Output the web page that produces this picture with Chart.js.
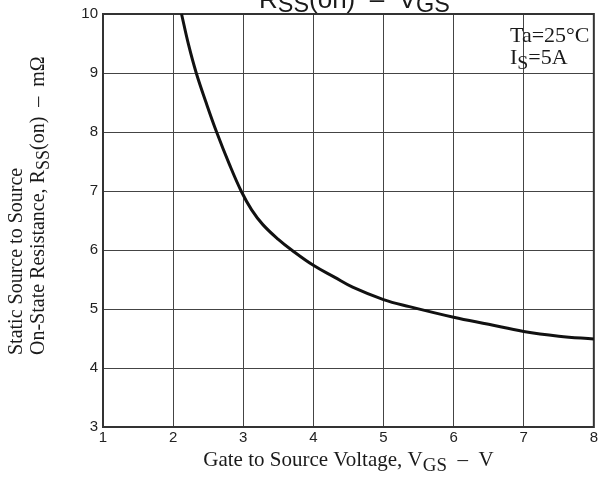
<!DOCTYPE html>
<html>
<head>
<meta charset="utf-8">
<script src="https://cdn.jsdelivr.net/npm/chart.js@4.4.0/dist/chart.umd.min.js"></script>
<style>
  html, body { margin: 0; padding: 0; background: #fff; }
  #wrap { width: 600px; height: 477px; }
</style>
</head>
<body>
<div id="wrap"><canvas id="rdsChart" width="600" height="477"></canvas></div>
<script>
// Curve (VGS in V, RSS(on) in mOhm)
const vgs = [2.12, 2.22, 2.33, 2.47, 2.62, 2.8, 2.97, 3.12, 3.28, 3.5, 3.69, 4.0, 4.3, 4.56, 5.0, 5.37, 6.0, 6.5, 7.0, 7.5, 8.0];
const rss = [10.0, 9.48, 9.0, 8.5, 8.0, 7.46, 7.0, 6.68, 6.43, 6.18, 6.0, 5.74, 5.54, 5.37, 5.16, 5.04, 4.86, 4.74, 4.62, 4.54, 4.49];
const xTicks = [1, 2, 3, 4, 5, 6, 7, 8];
const yTicks = [3, 4, 5, 6, 7, 8, 9, 10];

const SERIF = '"Liberation Serif", "Times New Roman", serif';
const SANS = '"Liberation Sans", Arial, sans-serif';

// draws text runs with optional subscripts
function drawRich(ctx, parts, x, y, size, family, align, drop) {
    const subSize = size * 0.9;
    const off = size * (drop || 0.28);
    let total = 0;
    parts.forEach(p => {
        ctx.font = (p.sub ? subSize : size) + "px " + family;
        p.w = ctx.measureText(p.t).width;
        total += p.w;
    });
    let cx = align === "center" ? x - total / 2 : x;
    ctx.textAlign = "left";
    ctx.textBaseline = "alphabetic";
    parts.forEach(p => {
        ctx.font = (p.sub ? subSize : size) + "px " + family;
        ctx.fillText(p.t, cx, p.sub ? y + off : y);
        cx += p.w;
    });
}

const textPlugin = {
    id: "textPlugin",
    beforeDatasetsDraw(chart) {
        const { ctx, chartArea: a } = chart;
        ctx.save();
        ctx.strokeStyle = "#333";
        ctx.lineWidth = 2;
        ctx.strokeRect(a.left, a.top, a.right - a.left, a.bottom - a.top);
        ctx.restore();
    },
    afterDraw(chart) {
        const { ctx, chartArea: a } = chart;
        ctx.save();
        ctx.fillStyle = "#1a1a1a";
        // title (cut off at the top in the reference)
        drawRich(ctx, [{ t: "R" }, { t: "SS", sub: true }, { t: "(on)  \u2013  V" }, { t: "GS", sub: true }],
            (a.left + a.right) / 2 + 6, 8, 26, SANS, "center", 0.15);
        // x axis title
        drawRich(ctx, [{ t: "Gate to Source Voltage, V" }, { t: "GS", sub: true }, { t: "  \u2013  V" }],
            (a.left + a.right) / 2, 466, 21, SERIF, "center", 0.25);
        // y axis title, two rotated lines
        ctx.save();
        ctx.translate(22, 355);
        ctx.rotate(-Math.PI / 2);
        drawRich(ctx, [{ t: "Static Source to Source" }], 0, 0, 20, SERIF, "left");
        ctx.restore();
        ctx.save();
        ctx.translate(44, 355);
        ctx.rotate(-Math.PI / 2);
        drawRich(ctx, [{ t: "On-State Resistance, R" }, { t: "SS", sub: true }, { t: "(on)  \u2013  m\u03A9" }],
            0, 0, 20, SERIF, "left", 0.25);
        ctx.restore();
        // conditions
        drawRich(ctx, [{ t: "Ta=25\u00B0C" }], 510, 42, 22, SERIF, "left");
        drawRich(ctx, [{ t: "I" }, { t: "S", sub: true }, { t: "=5A" }], 510, 64, 22, SERIF, "left", 0.22);
        ctx.restore();
    }
};

new Chart(document.getElementById("rdsChart"), {
    type: "scatter",
    data: {
        datasets: [{
            data: vgs.map((v, i) => ({ x: v, y: rss[i] })),
            showLine: true,
            borderColor: "#111",
            borderWidth: 3,
            pointRadius: 0,
            tension: 0.4,
            clip: false,
        }],
    },
    options: {
        responsive: false,
        animation: false,
        layout: { padding: { left: 0, top: 14, right: 6, bottom: 0 } },
        plugins: { legend: { display: false }, tooltip: { enabled: false } },
        scales: {
            x: {
                type: "linear",
                min: 1,
                max: 8,
                afterBuildTicks: s => { s.ticks = xTicks.map(v => ({ value: v })); },
                afterFit: s => { s.height = 50; },
                grid: { color: "#444", lineWidth: 1, drawTicks: false },
                border: { display: false },
                ticks: { padding: 2, color: "#222", font: { family: SANS, size: 15 } },
            },
            y: {
                type: "linear",
                min: 3,
                max: 10,
                afterBuildTicks: s => { s.ticks = yTicks.map(v => ({ value: v })); },
                afterFit: s => { s.width = 103; },
                grid: { color: "#444", lineWidth: 1, drawTicks: false },
                border: { display: false },
                ticks: { padding: 5, color: "#222", font: { family: SANS, size: 15 } },
            },
        },
    },
    plugins: [textPlugin],
});
</script>
</body>
</html>
